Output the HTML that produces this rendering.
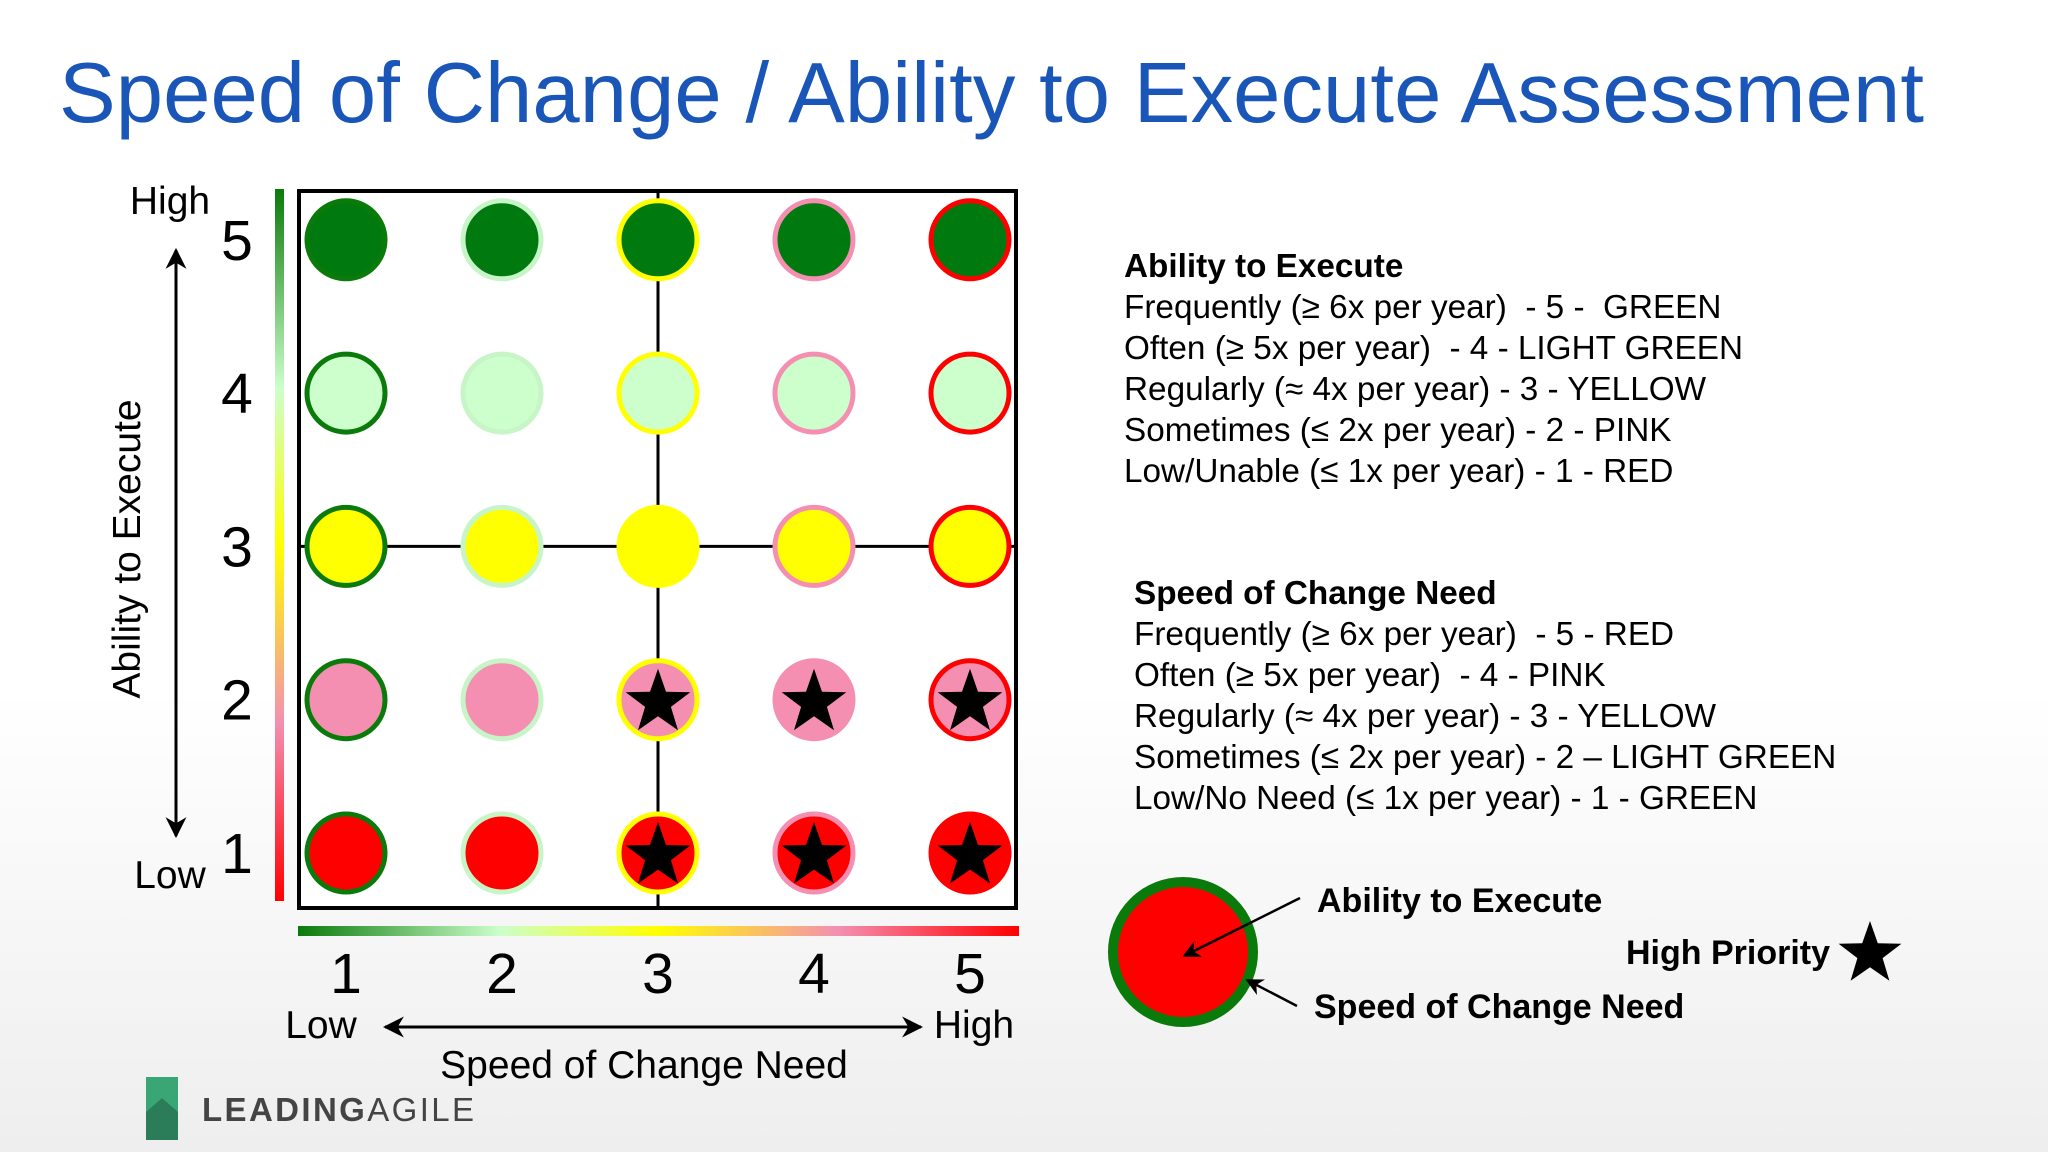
<!DOCTYPE html>
<html><head><meta charset="utf-8">
<style>
html,body{margin:0;padding:0;}
body{width:2048px;height:1152px;overflow:hidden;background:linear-gradient(#ffffff 0%,#ffffff 60%,#eeeeee 100%);font-family:"Liberation Sans",sans-serif;}
svg{position:absolute;left:0;top:0;}
text{white-space:pre;}
</style></head>
<body>
<svg id="s" width="2048" height="1152" viewBox="0 0 2048 1152">
<defs>
<linearGradient id="vg" x1="0" y1="0" x2="0" y2="1">
<stop offset="0" stop-color="#0a7a0a"/><stop offset="0.28" stop-color="#ccffcc"/><stop offset="0.5" stop-color="#ffff00"/><stop offset="0.75" stop-color="#f48fb1"/><stop offset="1" stop-color="#ff0000"/>
</linearGradient>
<linearGradient id="hg" x1="0" y1="0" x2="1" y2="0">
<stop offset="0" stop-color="#0a7a0a"/><stop offset="0.28" stop-color="#ccffcc"/><stop offset="0.5" stop-color="#ffff00"/><stop offset="0.75" stop-color="#f48fb1"/><stop offset="1" stop-color="#ff0000"/>
</linearGradient>
<marker id="ah" viewBox="0 0 10 10" refX="9" refY="5" markerWidth="7" markerHeight="7" orient="auto-start-reverse"><path d="M0,0 L10,5 L0,10 L3,5 z" fill="#000"/></marker>
</defs>
<text x="59" y="122" font-size="85" textLength="1865" fill="#1a56b8">Speed of Change / Ability to Execute Assessment</text>

<rect x="275" y="189" width="9" height="712" fill="url(#vg)"/>
<rect x="298" y="926" width="721" height="10" fill="url(#hg)"/>
<g id="plot"></g>

<text x="170" y="214" font-size="39" text-anchor="middle">High</text>
<text x="170" y="888" font-size="39" text-anchor="middle">Low</text>
<line x1="176" y1="250" x2="176" y2="836" stroke="#000" stroke-width="3" marker-start="url(#ah)" marker-end="url(#ah)"/>
<text transform="translate(140,549) rotate(-90)" font-size="39" text-anchor="middle">Ability to Execute</text>

<text x="321" y="1038" font-size="39" text-anchor="middle">Low</text>
<text x="974" y="1038" font-size="39" text-anchor="middle">High</text>
<line x1="385" y1="1027" x2="921" y2="1027" stroke="#000" stroke-width="3" marker-start="url(#ah)" marker-end="url(#ah)"/>
<text x="644" y="1078" font-size="39" text-anchor="middle">Speed of Change Need</text>

<g>
<rect x="146" y="1077" width="32" height="63" fill="#3aa676"/>
<polygon points="146,1112 162,1098 178,1112 178,1140 146,1140" fill="#2a7d58"/>
<text x="202" y="1121" font-size="33" fill="#444" letter-spacing="3" textLength="275" font-weight="bold">LEADING<tspan font-weight="normal">AGILE</tspan></text>
</g>

<g font-size="33.3">
<text x="1124" y="277" font-weight="bold">Ability to Execute</text>
<text x="1124" y="318">Frequently (≥ 6x per year)  - 5 -  GREEN</text>
<text x="1124" y="359">Often (≥ 5x per year)  - 4 - LIGHT GREEN</text>
<text x="1124" y="400">Regularly (≈ 4x per year) - 3 - YELLOW</text>
<text x="1124" y="441">Sometimes (≤ 2x per year) - 2 - PINK</text>
<text x="1124" y="482">Low/Unable (≤ 1x per year) - 1 - RED</text>
</g>
<g font-size="33.3">
<text x="1134" y="604" font-weight="bold">Speed of Change Need</text>
<text x="1134" y="645">Frequently (≥ 6x per year)  - 5 - RED</text>
<text x="1134" y="686">Often (≥ 5x per year)  - 4 - PINK</text>
<text x="1134" y="727">Regularly (≈ 4x per year) - 3 - YELLOW</text>
<text x="1134" y="768">Sometimes (≤ 2x per year) - 2 – LIGHT GREEN</text>
<text x="1134" y="809">Low/No Need (≤ 1x per year) - 1 - GREEN</text>
</g>

<g>
<circle cx="1183" cy="952" r="70" fill="#ff0000" stroke="#0a7a0a" stroke-width="10"/>
<line x1="1300" y1="898" x2="1184" y2="956" stroke="#000" stroke-width="2.5" marker-end="url(#ah)"/>
<line x1="1297" y1="1006" x2="1247" y2="980" stroke="#000" stroke-width="2.5" marker-end="url(#ah)"/>
<text x="1317" y="912" font-size="34" font-weight="bold" font-family="'Liberation Sans Narrow','Liberation Sans',sans-serif">Ability to Execute</text>
<text x="1314" y="1018" font-size="34" font-weight="bold" font-family="'Liberation Sans Narrow','Liberation Sans',sans-serif">Speed of Change Need</text>
<text x="1626" y="964" font-size="34" font-weight="bold" font-family="'Liberation Sans Narrow','Liberation Sans',sans-serif">High Priority</text>
<polygon id="lstar" fill="#000"/>
</g>
</svg>
<script>
const speedLevels = [1,2,3,4,5];
const abilityLevels = [1,2,3,4,5];
const borderColors = ["#0a7a0a","#c8f5c8","#ffff00","#f48fb1","#ff0000"];
const fillColors = ["#ff0000","#f48fb1","#ffff00","#ccffcc","#007a0f"];
const priorityCells = [[3,1],[4,1],[5,1],[3,2],[4,2],[5,2]];
const tickLabels = ["1","2","3","4","5"];

const NS="http://www.w3.org/2000/svg";
const plot=document.getElementById('plot');
const xs=v=>346+(v-1)*156;
const ys=v=>853-(v-1)*153.3;
function mk(t,a){const e=document.createElementNS(NS,t);for(const k in a)e.setAttribute(k,a[k]);return e;}
function starPts(cx,cy,R){const r=R*0.4;let p=[];for(let i=0;i<10;i++){const a=-Math.PI/2+i*Math.PI/5;const rr=i%2?r:R;p.push((cx+rr*Math.cos(a)).toFixed(1)+','+(cy+rr*Math.sin(a)).toFixed(1));}return p.join(' ');}

const box=mk('rect',{x:299,y:191,width:717,height:717,fill:'#fff',stroke:'#000','stroke-width':4});


plot.appendChild(box);
const vl=mk('line',{x1:xs(3),y1:191,x2:xs(3),y2:908,stroke:'#000','stroke-width':3});


plot.appendChild(vl);
const hl=mk('line',{x1:299,y1:ys(3),x2:1016,y2:ys(3),stroke:'#000','stroke-width':3});


plot.appendChild(hl);

abilityLevels.forEach((a,ai)=>{
  speedLevels.forEach((s,si)=>{
    const c=mk('circle',{cx:xs(s),cy:ys(a),r:39,fill:fillColors[ai],stroke:borderColors[si],'stroke-width':5});
    
    
    plot.appendChild(c);
  });
});
priorityCells.forEach(p=>{
  const st=mk('polygon',{points:starPts(xs(p[0]),ys(p[1])+3,34),fill:'#000'});
  
  
  plot.appendChild(st);
});
tickLabels.forEach((t,i)=>{
  const ty=mk('text',{x:237,y:ys(abilityLevels[i])+20,'font-size':57,'text-anchor':'middle'});
  ty.textContent=t;
  
  
  plot.appendChild(ty);
  const tx=mk('text',{x:xs(speedLevels[i]),y:993,'font-size':57,'text-anchor':'middle'});
  tx.textContent=t;
  
  
  plot.appendChild(tx);
});
document.getElementById('lstar').setAttribute('points',starPts(1870,954,33));
</script>
</body></html>
